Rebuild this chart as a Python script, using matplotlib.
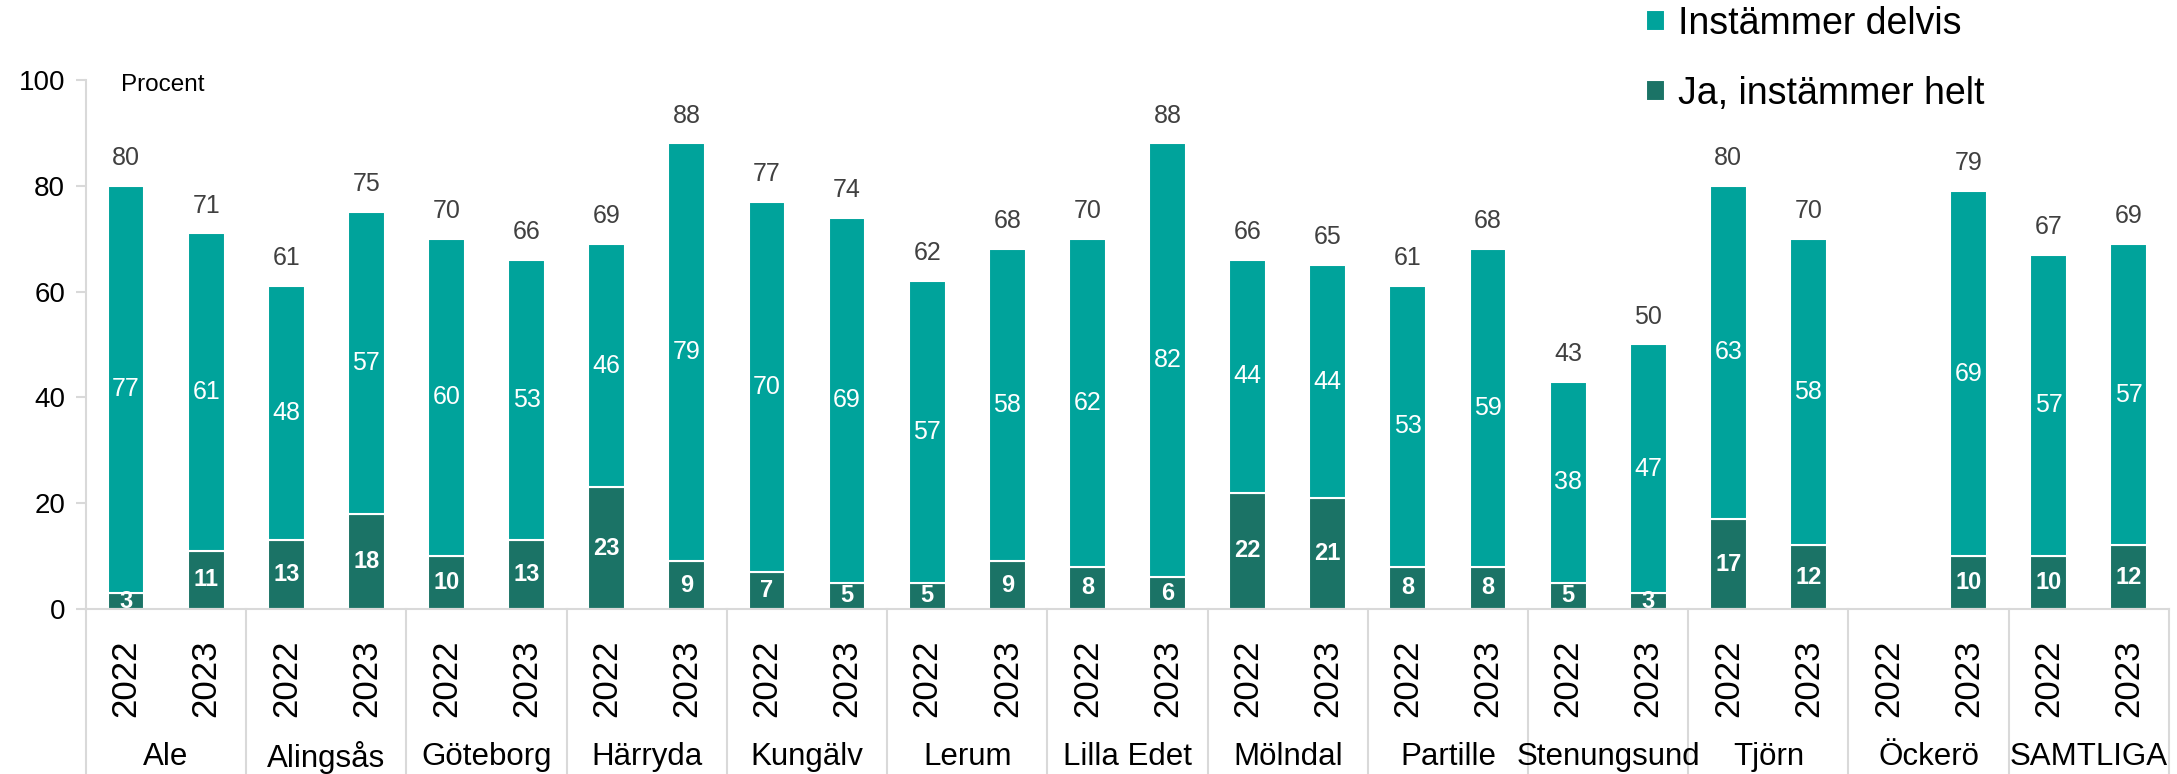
import numpy as np
import matplotlib
matplotlib.use("Agg")
import matplotlib.pyplot as plt

plt.rcParams['font.family'] = ['Liberation Sans', 'DejaVu Sans']

cities = ['Ale', 'Alingsås', 'Göteborg', 'Härryda', 'Kungälv', 'Lerum', 'Lilla Edet',
          'Mölndal', 'Partille', 'Stenungsund', 'Tjörn', 'Öckerö', 'SAMTLIGA']
years = ['2022', '2023']

# "Ja, instämmer helt" per city, 2022 then 2023 (None = no data)
helt = [3, 11, 13, 18, 10, 13, 23, 9, 7, 5, 5, 9, 8, 6, 22, 21, 8, 8, 5, 3, 17, 12, None, 10, 10, 12]
# "Instämmer delvis"
delvis = [77, 61, 48, 57, 60, 53, 46, 79, 70, 69, 57, 58, 62, 82, 44, 44, 53, 59, 38, 47, 63, 58, None, 69, 57, 57]
# total (helt + delvis)
totals = [80, 71, 61, 75, 70, 66, 69, 88, 77, 74, 62, 68, 70, 88, 66, 65, 61, 68, 43, 50, 80, 70, None, 79, 67, 69]

light = '#00A39B'
dark = '#1B7366'
grey = '#D9D9D9'

n = len(helt)
x = np.arange(n)
h = np.array([np.nan if v is None else v for v in helt], dtype=float)
t = np.array([np.nan if v is None else v for v in totals], dtype=float)

fig = plt.figure(figsize=(21.77, 7.74), dpi=100)
ax = fig.add_axes([0.0395, 0.2132, 0.9568, 0.6835])

w = 0.46
b1 = ax.bar(x, h, width=w, color=dark, edgecolor='white', linewidth=1.5, label='Ja, instämmer helt')
b2 = ax.bar(x, t - h, bottom=h, width=w, color=light, edgecolor='white', linewidth=1.5,
            label='Instämmer delvis')

for i in range(n):
    if totals[i] is None:
        continue
    ax.text(x[i], helt[i] / 2, str(helt[i]), ha='center', va='center', color='white',
            fontsize=17, fontweight='bold')
    ax.text(x[i], (helt[i] + totals[i]) / 2, str(delvis[i]), ha='center', va='center',
            color='white', fontsize=18)
    ax.annotate(str(totals[i]), (x[i], t[i]), xytext=(0, 20), textcoords='offset points',
                ha='center', va='center', color='#404040', fontsize=18)

ax.set_xlim(-0.5, n - 0.5)
ax.set_ylim(0, 100)
ax.set_yticks([0, 20, 40, 60, 80, 100])
ax.tick_params(axis='y', labelsize=20, length=7, color=grey, width=1.5, pad=8)
ax.set_xticks(x)
ax.set_xticklabels(years * len(cities), rotation=90, fontsize=25)
ax.tick_params(axis='x', length=0, pad=22)

for s in ['top', 'right']:
    ax.spines[s].set_visible(False)
for s in ['left', 'bottom']:
    ax.spines[s].set_color(grey)
    ax.spines[s].set_linewidth(1.5)

# group separators and city names
tr = ax.get_xaxis_transform()
for k in range(len(cities) + 1):
    xs = 2 * k - 0.5
    ax.plot([xs, xs], [0, -0.32], transform=tr, color=grey, lw=1.5, clip_on=False)
for k, c in enumerate(cities):
    ax.text(2 * k + 0.5, -0.28, c, transform=tr, ha='center', va='center', fontsize=22.5)

ax.text(0.017, 0.99, 'Procent', transform=ax.transAxes, ha='left', va='center', fontsize=17.5)

fig.legend(handles=[b2, b1], loc='upper left', bbox_to_anchor=(0.7405, 1.036), frameon=False,
           fontsize=27, handlelength=0.5, handleheight=0.5, handletextpad=0.35,
           labelspacing=0.9)

fig.savefig('out.png', dpi=100)
